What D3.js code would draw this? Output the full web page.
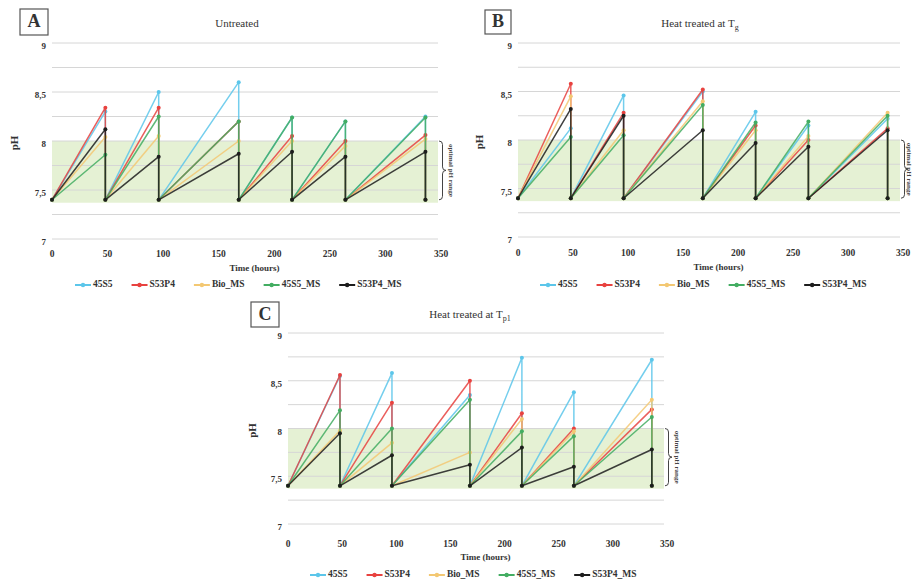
<!DOCTYPE html>
<html>
<head>
<meta charset="utf-8">
<script src="https://cdn.jsdelivr.net/npm/d3@7"></script>
<style>
  html, body { margin: 0; padding: 0; background: #fff; }
  svg { display: block; font-family: "Liberation Serif", "Times New Roman", serif; }
</style>
</head>
<body>
<svg id="chart" width="914" height="581"></svg>
<script>
// ---------------- DATA ----------------
const times = [0, 48, 96, 168, 216, 264, 336];      // hours (sampling points)
const startPH = 7.4;                                 // pH after each medium refresh
const seriesNames = ["45S5", "S53P4", "Bio_MS", "45S5_MS", "S53P4_MS"];
const seriesColors = ["#5cc6ea", "#e8423f", "#f3c873", "#43ad62", "#1d1d1d"];
const xTicks = [0, 50, 100, 150, 200, 250, 300, 350];
const xTickLabels = ["0", "50", "100", "150", "200", "250", "300", "350"];
const yTicks = [7, 7.5, 8, 8.5, 9];
const yTickLabels = ["7", "7,5", "8", "8,5", "9"];
const gridValues = [7, 7.25, 7.5, 7.75, 8, 8.25, 8.5, 8.75, 9];
const optimalRange = [7.37, 8.0];

// peak pH reached at t = 48, 96, 168, 216, 264, 336 h
const untreated_45S5    = [8.30, 8.50, 8.60, 8.24, 8.20, 8.25];
const untreated_S53P4   = [8.34, 8.34, 8.20, 8.05, 8.00, 8.06];
const untreated_BioMS   = [8.04, 8.05, 8.00, 8.00, 7.95, 8.02];
const untreated_45S5MS  = [7.86, 8.25, 8.20, 8.24, 8.20, 8.24];
const untreated_S53P4MS = [8.12, 7.84, 7.87, 7.89, 7.84, 7.89];

const tg_45S5    = [8.12, 8.46, 8.50, 8.29, 8.15, 8.22];
const tg_S53P4   = [8.58, 8.28, 8.52, 8.15, 8.00, 8.12];
const tg_BioMS   = [8.45, 8.10, 8.40, 8.10, 8.04, 8.28];
const tg_45S5MS  = [8.03, 8.05, 8.36, 8.18, 8.19, 8.25];
const tg_S53P4MS = [8.32, 8.25, 8.10, 7.97, 7.93, 8.10];

const tp_45S5    = [8.55, 8.58, 8.35, 8.74, 8.38, 8.72];
const tp_S53P4   = [8.56, 8.27, 8.50, 8.16, 8.00, 8.20];
const tp_BioMS   = [7.98, 7.85, 7.75, 8.10, 7.97, 8.30];
const tp_45S5MS  = [8.19, 8.00, 8.30, 7.97, 7.92, 8.12];
const tp_S53P4MS = [7.95, 7.72, 7.62, 7.80, 7.60, 7.78];

// ---------------- LAYOUT ----------------
const panels = [
  { letter: "A", title: "Untreated", sub: "", series: [untreated_45S5, untreated_S53P4, untreated_BioMS, untreated_45S5MS, untreated_S53P4MS],
    x0: 52, x1: 441, yTop: 43, yBot: 239, box: [20, 9, 28, 26], titleX: 237, titleY: 27,
    phX: 15, tickDy: 16, timeDy: 30, legDy: 46, legX: 75, braceTextDx: 12 },
  { letter: "B", title: "Heat treated at T", sub: "g", series: [tg_45S5, tg_S53P4, tg_BioMS, tg_45S5MS, tg_S53P4MS],
    x0: 518, x1: 903, yTop: 43, yBot: 237, box: [485, 10, 26, 24], titleX: 700, titleY: 27,
    phX: 480, tickDy: 17, timeDy: 31, legDy: 48, legX: 540, braceTextDx: 8 },
  { letter: "C", title: "Heat treated at T", sub: "p1", series: [tp_45S5, tp_S53P4, tp_BioMS, tp_45S5MS, tp_S53P4MS],
    x0: 288, x1: 667, yTop: 333, yBot: 524, box: [251, 302, 28, 25], titleX: 470, titleY: 318,
    phX: 253, tickDy: 21, timeDy: 34, legDy: 51, legX: 310, braceTextDx: 12 }
];

const svg = d3.select("#chart");

function seriesPoints(peaks) {
  const pts = [[times[0], startPH]];
  peaks.forEach((p, i) => {
    pts.push([times[i + 1], p]);
    pts.push([times[i + 1], startPH]);
  });
  return pts;
}

function bracePath(x, yT, yB, w) {
  const ym = (yT + yB) / 2, h = w / 2;
  return `M${x},${yT} Q${x + h},${yT} ${x + h},${yT + h} L${x + h},${ym - h} Q${x + h},${ym} ${x + w},${ym} ` +
         `Q${x + h},${ym} ${x + h},${ym + h} L${x + h},${yB - h} Q${x + h},${yB} ${x},${yB}`;
}

panels.forEach(P => {
  const g = svg.append("g");
  const x = d3.scaleLinear().domain([0, 350]).range([P.x0, P.x1]);
  const y = d3.scaleLinear().domain([7, 9]).range([P.yBot, P.yTop]);

  // optimal band
  g.append("rect")
    .attr("x", x(0)).attr("width", x(350) - x(0) - 3)
    .attr("y", y(optimalRange[1])).attr("height", y(optimalRange[0]) - y(optimalRange[1]))
    .attr("fill", "#e2efcf").attr("opacity", 0.9);

  // gridlines
  g.selectAll(".grid").data(gridValues).join("line")
    .attr("x1", x(0)).attr("x2", x(350) - 3)
    .attr("y1", d => y(d)).attr("y2", d => y(d))
    .attr("stroke", "#d6d6d6").attr("stroke-width", 1);

  // y tick labels
  g.selectAll(".yl").data(yTicks).join("text")
    .attr("x", x(0) - 6).attr("y", d => y(d) + 4)
    .attr("text-anchor", "end").attr("font-size", 9).attr("font-weight", "bold").attr("fill", "#333")
    .attr("dominant-baseline", "middle")
    .text((d, i) => yTickLabels[i]);

  // x tick labels
  g.selectAll(".xl").data(xTicks).join("text")
    .attr("x", d => x(d)).attr("y", P.yBot + P.tickDy)
    .attr("text-anchor", "middle").attr("font-size", 9.5).attr("font-weight", "bold").attr("fill", "#333")
    .attr("dominant-baseline", "middle")
    .text((d, i) => xTickLabels[i]);

  // axis titles
  g.append("text").attr("x", (P.x0 + P.x1) / 2 + 8).attr("y", P.yBot + P.timeDy)
    .attr("text-anchor", "middle").attr("font-size", 9).attr("font-weight", "bold").attr("fill", "#333")
    .attr("dominant-baseline", "middle").text("Time (hours)");
  g.append("text").attr("transform", `translate(${P.phX},${(P.yTop + P.yBot) / 2 + 2}) rotate(-90)`)
    .attr("text-anchor", "middle").attr("font-size", 11).attr("font-weight", "bold").attr("fill", "#333")
    .attr("dominant-baseline", "middle").text("pH");

  // series
  const line = d3.line().x(d => x(d[0])).y(d => y(d[1]));
  P.series.forEach((peaks, si) => {
    const pts = seriesPoints(peaks);
    g.append("path").datum(pts).attr("d", line)
      .attr("fill", "none").attr("stroke", seriesColors[si]).attr("stroke-width", 1.5)
      .attr("stroke-linejoin", "round").attr("opacity", 0.85);
    g.selectAll(null).data(pts).join("circle")
      .attr("cx", d => x(d[0])).attr("cy", d => y(d[1])).attr("r", 2)
      .attr("fill", seriesColors[si]);
  });

  // optimal pH range brace
  const bx = x(350) - 2;
  g.append("path").attr("d", bracePath(bx, y(optimalRange[1]), y(startPH), 7))
    .attr("fill", "none").attr("stroke", "#444").attr("stroke-width", 1);
  g.append("text")
    .attr("transform", `translate(${bx + P.braceTextDx},${(y(optimalRange[1]) + y(startPH)) / 2}) rotate(90)`)
    .attr("text-anchor", "middle").attr("dominant-baseline", "middle")
    .attr("font-size", 7).attr("font-weight", "bold").attr("fill", "#444").text("optimal pH range");

  // panel letter box
  g.append("rect").attr("x", P.box[0]).attr("y", P.box[1]).attr("width", P.box[2]).attr("height", P.box[3])
    .attr("fill", "#fff").attr("stroke", "#555").attr("stroke-width", 1.2);
  g.append("text").attr("x", P.box[0] + P.box[2] / 2).attr("y", P.box[1] + P.box[3] / 2 + 1)
    .attr("text-anchor", "middle").attr("dominant-baseline", "middle")
    .attr("font-size", 18).attr("font-weight", "bold").attr("fill", "#333").text(P.letter);

  // title
  const t = g.append("text").attr("x", P.titleX).attr("y", P.titleY)
    .attr("text-anchor", "middle").attr("font-size", 11).attr("fill", "#333");
  t.append("tspan").text(P.title);
  if (P.sub) t.append("tspan").attr("font-size", 8).attr("dy", 3).text(P.sub);

  // legend
  let lx = P.legX;
  const ly = P.yBot + P.legDy;
  seriesNames.forEach((name, si) => {
    g.append("line").attr("x1", lx).attr("x2", lx + 16).attr("y1", ly).attr("y2", ly)
      .attr("stroke", seriesColors[si]).attr("stroke-width", 2);
    g.append("circle").attr("cx", lx + 8).attr("cy", ly).attr("r", 2.2).attr("fill", seriesColors[si]);
    const tx = g.append("text").attr("x", lx + 18).attr("y", ly)
      .attr("dominant-baseline", "middle").attr("font-size", 9.5).attr("font-weight", "bold").attr("fill", "#333")
      .text(name);
    lx += 18 + tx.node().getComputedTextLength() + 19;
  });
});
</script>
</body>
</html>
